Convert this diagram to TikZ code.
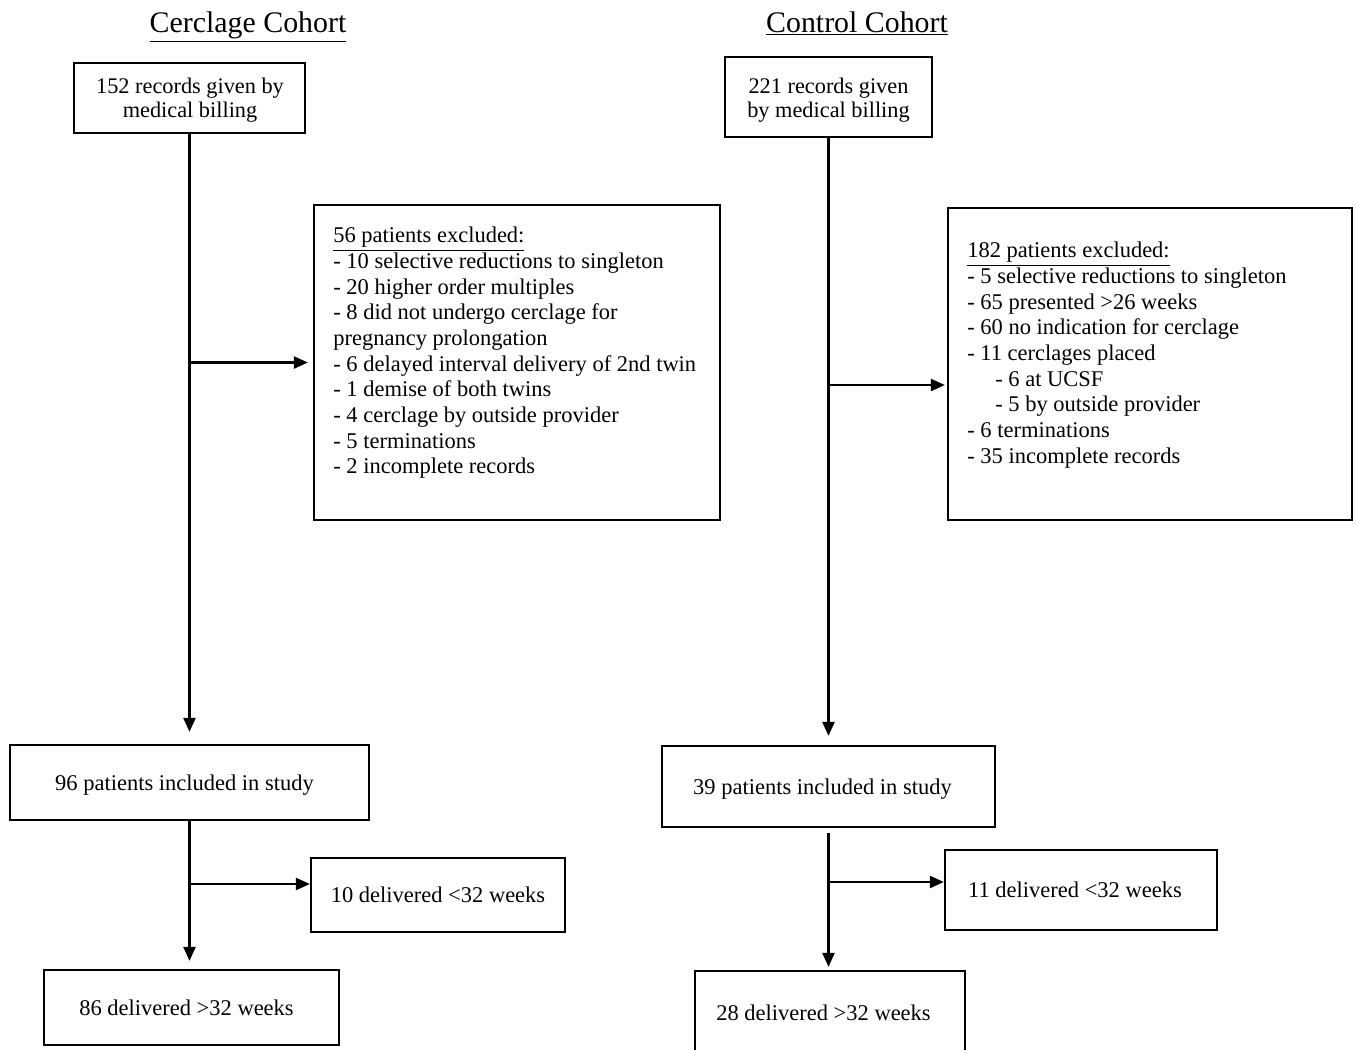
\documentclass[tikz,border=0pt]{standalone}
\usepackage{fontspec}
\setmainfont{Liberation Serif}
\usetikzlibrary{arrows.meta}
\newcommand{\ttlul}[1]{\underline{#1}}
\begin{document}
\begin{tikzpicture}[x=0.02cm,y=-0.02cm,
  box/.style={draw, line width=1.3pt, inner sep=0pt, align=center},
  bigfont/.style={font=\fontsize{12.7}{13.6}\selectfont},
  smallfont/.style={font=\fontsize{12.8}{14.6}\selectfont, text depth=0pt},
  list/.style={inner sep=0pt, align=left, anchor=north west, font=\fontsize{12.8}{14.6}\selectfont},
  title/.style={inner sep=0pt, anchor=base, font=\fontsize{17}{20}\selectfont},
  arr/.style={line width=1.3pt, -{Triangle[length=0.28cm,width=0.24cm]}}]
\useasboundingbox (0,0) rectangle (1356,1049);
\clip (0,0) rectangle (1356,1049);
% titles
\node[title] (t1) at (248,32) {\ttlul{Cerclage Cohort}};
\node[title] (t2) at (857,32) {\ttlul{Control Cohort}};
% left column
\node[box, minimum width=4.62cm, minimum height=1.40cm] (A1) at (189.5,98) {};
\node[bigfont, align=center, inner sep=0pt] (A1t) at (190,100) {152 records given by\\medical billing};
\node[box, minimum width=8.12cm, minimum height=6.30cm] (E1) at (517,362.5) {};
\node[list] (E1t) at (333,227) {\underline{56 patients excluded:}\\
- 10 selective reductions to singleton\\
- 20 higher order multiples\\
- 8 did not undergo cerclage for\\
pregnancy prolongation\\
- 6 delayed interval delivery of 2nd twin\\
- 1 demise of both twins\\
- 4 cerclage by outside provider\\
- 5 terminations\\
- 2 incomplete records};
\node[box, smallfont, minimum width=7.18cm, minimum height=1.50cm] (I1) at (189.5,782.5) {96 patients included in study\kern0.2cm};
\node[box, smallfont, minimum width=5.08cm, minimum height=1.48cm] (L1) at (438,895) {10 delivered <32 weeks};
\node[box, smallfont, minimum width=5.90cm, minimum height=1.50cm] (G1) at (191.5,1007.5) {86 delivered >32 weeks\kern0.2cm};
% right column
\node[box, minimum width=4.14cm, minimum height=1.60cm] (A2) at (828.5,97) {};
\node[bigfont, align=center, inner sep=0pt] (A2t) at (828.5,100) {221 records given\\by medical billing};
\node[box, minimum width=8.08cm, minimum height=6.24cm] (E2) at (1150,364) {};
\node[list] (E2t) at (967,242) {\underline{182 patients excluded:}\\
- 5 selective reductions to singleton\\
- 65 presented >26 weeks\\
- 60 no indication for cerclage\\
- 11 cerclages placed\\
\hspace*{0.56cm}- 6 at UCSF\\
\hspace*{0.56cm}- 5 by outside provider\\
- 6 terminations\\
- 35 incomplete records};
\node[box, smallfont, minimum width=6.66cm, minimum height=1.62cm] (I2) at (828.5,786.5) {39 patients included in study\kern0.24cm};
\node[box, smallfont, minimum width=5.44cm, minimum height=1.60cm] (L2) at (1081,890) {11 delivered <32 weeks\kern0.24cm};
\node[box, smallfont, minimum width=5.40cm, minimum height=1.68cm] (G2) at (830,1013) {28 delivered >32 weeks\kern0.26cm};
% connectors left
\draw[arr, shorten >=0.24cm] (A1.south) -- (I1.north);
\coordinate (b1) at (A1.south |- E1.west);
\draw[arr, shorten >=0.1cm] (b1) -- (E1.west);
\draw[arr, shorten >=0.16cm] (I1.south) -- (I1.south |- G1.north);
\coordinate (c1) at (189.5,884);
\draw[arr] (c1) -- (c1 -| L1.west);
% connectors right
\draw[arr, shorten >=0.18cm] (A2.south) -- (I2.north);
\coordinate (b2) at (828.5,385);
\draw[arr, shorten >=0.04cm] (b2) -- (b2 -| E2.west);
\coordinate (d2) at (828.5,833);
\draw[arr, shorten >=0.06cm] (d2) -- (d2 |- G2.north);
\coordinate (c2) at (828.5,882);
\draw[arr] (c2) -- (c2 -| L2.west);
\end{tikzpicture}
\end{document}
